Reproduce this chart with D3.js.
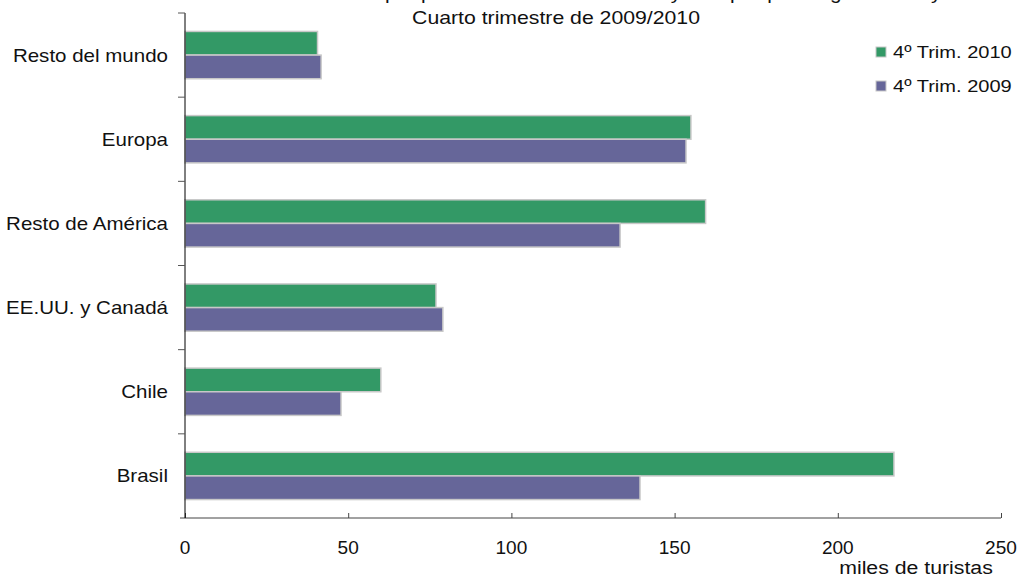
<!DOCTYPE html>
<html>
<head>
<meta charset="utf-8">
<script src="https://cdn.jsdelivr.net/npm/d3@7"></script>
<style>
  body { margin: 0; background: #fff; }
  svg { display: block; font-family: "Liberation Sans", Arial, sans-serif; }
</style>
</head>
<body>
<svg id="chart"></svg>
<script>
const categories = ["Resto del mundo", "Europa", "Resto de América", "EE.UU. y Canadá", "Chile", "Brasil"]
const series = ["4º Trim. 2010", "4º Trim. 2009"]
const trim2010 = [40.6, 155.0, 159.5, 76.9, 60.0, 217.2]
const trim2009 = [41.7, 153.5, 133.3, 79.0, 47.8, 139.4]
const xTicks = [0, 50, 100, 150, 200, 250]

const width = 1021, height = 577
const colors = ["#339966", "#666699"]

const svg = d3.select("#chart")
  .attr("width", width)
  .attr("height", height)

const x = d3.scaleLinear()
  .domain([0, 250])
  .range([185, 1001])

const y = d3.scaleBand()
  .domain(categories)
  .range([13, 518])

const sub = d3.scaleBand()
  .domain(series)
  .range([0, y.bandwidth()])
  .paddingOuter(0.78)
  .paddingInner(0)

const rows = categories.map((c, i) => ({name: c, values: [trim2010[i], trim2009[i]]}))

// text a bit wider than the font, like the source's stretched Arial
function label(g, px, py, txt, anchor, size, sx) {
  return g.append("text")
    .attr("transform", `translate(${px},${py}) scale(${sx},1)`)
    .attr("text-anchor", anchor)
    .style("font-size", size + "px")
    .attr("fill", "#111")
    .text(txt)
}

// title (first line mostly cut off at the top, like the source)
label(svg, 558, -1, "Turistas no residentes por país de residencia. Ezeiza y Aeroparque Jorge Newbery", "middle", 19, 1.1)
label(svg, 556, 24, "Cuarto trimestre de 2009/2010", "middle", 18, 1.18)

// bars
svg.append("g")
  .selectAll("g")
  .data(rows)
  .join("g")
  .attr("transform", d => `translate(0,${y(d.name)})`)
  .selectAll("rect")
  .data(d => d.values.map((v, i) => ({key: series[i], value: v, i})))
  .join("rect")
  .attr("x", x(0))
  .attr("y", d => sub(d.key))
  .attr("width", d => x(d.value) - x(0))
  .attr("height", sub.bandwidth())
  .attr("fill", d => colors[d.i])
  .attr("stroke", "#c8c8c8")
  .attr("stroke-width", 1.5)

// x axis
const xAxis = svg.append("g")
  .attr("transform", "translate(0,518)")
  .call(d3.axisBottom(x).tickValues(xTicks).tickSize(6).tickSizeOuter(0).tickFormat(""))
xAxis.select(".domain").attr("stroke", "#444").attr("d", "M180,0H1001")
xAxis.selectAll(".tick line").attr("stroke", "#444").attr("y1", -5).attr("y2", 0)

const xLabels = svg.append("g")
xTicks.forEach(t => label(xLabels, x(t), 554, t, "middle", 18, 1.06))

label(svg, 916, 574, "miles de turistas", "middle", 19, 1.12)

// y axis
svg.append("line")
  .attr("x1", x(0)).attr("x2", x(0))
  .attr("y1", y.range()[0]).attr("y2", y.range()[1])
  .attr("stroke", "#000")

const yLabels = svg.append("g")
categories.forEach(c => label(yLabels, 168, y(c) + y.bandwidth() / 2 + 6.5, c, "end", 18, 1.14))

// category separator ticks
svg.append("g")
  .selectAll("line")
  .data(categories.map(c => y(c)))
  .join("line")
  .attr("x1", 178).attr("x2", 185)
  .attr("y1", d => d).attr("y2", d => d)
  .attr("stroke", "#555")

// legend
const legend = svg.append("g")
  .selectAll("g")
  .data(series)
  .join("g")
  .attr("transform", (d, i) => `translate(876,${47 + i * 34})`)
legend.append("rect")
  .attr("width", 10).attr("height", 10)
  .attr("fill", (d, i) => colors[i])
  .attr("stroke", "#c8c8c8")
legend.each(function(d) {
  label(d3.select(this), 17, 11, d, "start", 17, 1.18)
})
</script>
</body>
</html>
